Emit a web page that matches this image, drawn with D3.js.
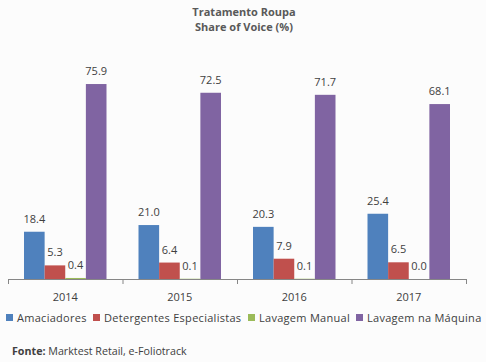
<!DOCTYPE html>
<html><head><meta charset="utf-8">
<script src="https://cdn.jsdelivr.net/npm/d3@7"></script>
<style>
html,body{margin:0;padding:0;background:#fcfcfc;}
svg{display:block;}
text{font-family:"Open Sans","Noto Sans",sans-serif;}
</style></head>
<body>
<svg id="c" width="486" height="362"></svg>
<script>
const categories = ["2014","2015","2016","2017"];
const seriesNames = ["Amaciadores","Detergentes Especialistas","Lavagem Manual","Lavagem na Máquina"];
const amaciadores = [18.4, 21.0, 20.3, 25.4];
const detergentes = [5.3, 6.4, 7.9, 6.5];
const lavagemManual = [0.4, 0.1, 0.1, 0.0];
const lavagemMaquina = [75.9, 72.5, 71.7, 68.1];
const colors = ["#4F81BD","#C0504D","#9BBB59","#8064A2"];
const series = [amaciadores, detergentes, lavagemManual, lavagemMaquina];

const svg = d3.select("#c");
svg.append("rect").attr("width",486).attr("height",362).attr("fill","#fcfcfc");

const x0 = d3.scaleBand().domain(categories).range([8,466]).paddingInner(0).paddingOuter(0);
const x1 = d3.scaleBand().domain(d3.range(4)).range([16, x0.bandwidth()-16]).padding(0);
const y = d3.scaleLinear().domain([0,80]).range([279,73.5]);

// title
svg.append("text").attr("x",244).attr("y",16).attr("text-anchor","middle")
  .attr("font-size",11).attr("font-weight","bold").attr("fill","#595959").text("Tratamento Roupa");
svg.append("text").attr("x",244).attr("y",31).attr("text-anchor","middle")
  .attr("font-size",11).attr("font-weight","bold").attr("fill","#595959").text("Share of Voice (%)");

const g = svg.selectAll("g.cat").data(categories).enter().append("g")
  .attr("transform", d => `translate(${x0(d)},0)`);

g.each(function(cat, ci){
  const gg = d3.select(this);
  series.forEach((s, si) => {
    const v = s[ci];
    const h = y(0) - y(v);
    gg.append("rect").attr("x", x1(si)).attr("width", x1.bandwidth())
      .attr("y", y(v)).attr("height", Math.max(0,h)).attr("fill", colors[si]);
    gg.append("text").attr("x", x1(si)+x1.bandwidth()/2).attr("y", y(v)-9)
      .attr("text-anchor","middle").attr("font-size",11).attr("fill","#404040")
      .text(v.toFixed(1));
  });
});

// x axis
const axis = svg.append("g");
axis.append("line").attr("x1",8).attr("x2",466).attr("y1",279.5).attr("y2",279.5).attr("stroke","#868686");
const ticks = categories.map(c => x0(c)).concat([466]);
ticks.forEach(t => axis.append("line").attr("x1",t+0.5).attr("x2",t+0.5).attr("y1",279).attr("y2",284).attr("stroke","#868686"));
categories.forEach(c => axis.append("text").attr("x", x0(c)+x0.bandwidth()/2).attr("y",301)
  .attr("text-anchor","middle").attr("font-size",11).attr("fill","#404040").text(c));

// legend
const legX = [6, 93, 248, 356];
seriesNames.forEach((n,i) => {
  svg.append("rect").attr("x",legX[i]).attr("y",314).attr("width",7).attr("height",7).attr("fill",colors[i]);
  svg.append("text").attr("x",legX[i]+11).attr("y",322).attr("font-size",11)
    .attr("letter-spacing",0.28).attr("fill","#404040").text(n);
});

// source
const src = svg.append("text").attr("x",12).attr("y",355).attr("font-size",10.7).attr("fill","#404040");
src.append("tspan").attr("font-weight","bold").text("Fonte:");
src.append("tspan").text(" Marktest Retail, e-Foliotrack");
</script>
</body></html>
